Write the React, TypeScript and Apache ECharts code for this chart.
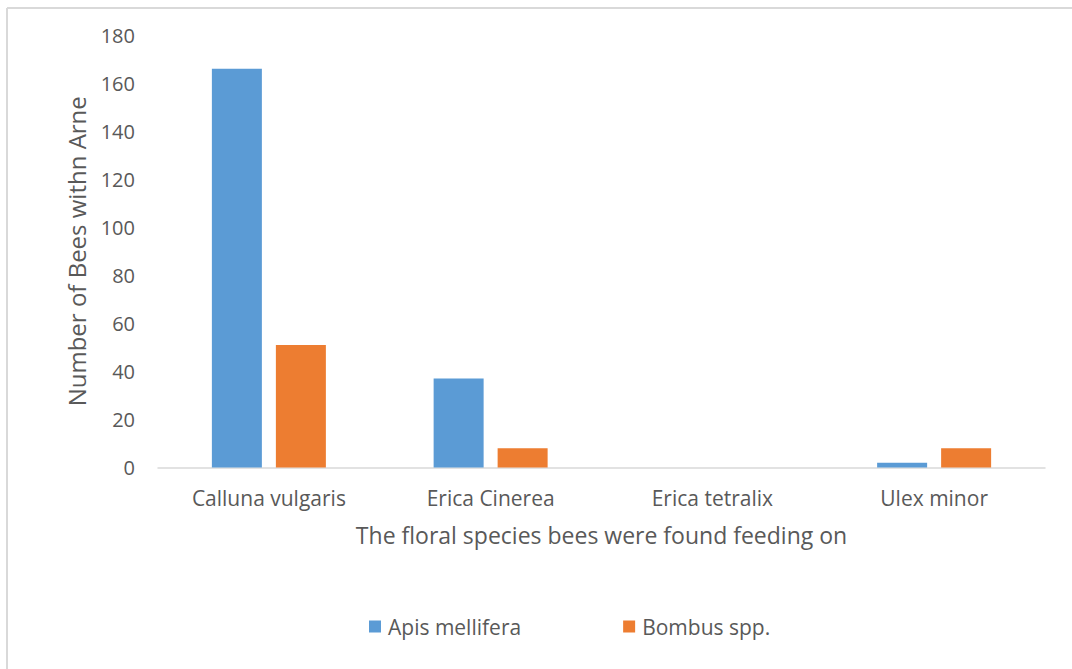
import React, { useEffect, useRef } from "react";
import * as echarts from "echarts";

const categories = ["Calluna vulgaris", "Erica Cinerea", "Erica tetralix", "Ulex minor"];
const apisValues = [166, 37, 0, 2];
const bombusValues = [51, 8, 0, 8];
const seriesNames = ["Apis mellifera", "Bombus spp."];
const yTicks = { min: 0, max: 180, interval: 20 };

const FONT = "'Open Sans', Lato, sans-serif";
const TEXT = "#595959";

export default function App() {
  const ref = useRef<HTMLDivElement>(null);
  useEffect(() => {
    if (!ref.current) return;
    const chart = echarts.init(ref.current, undefined, { renderer: "svg" });
    chart.setOption({
      animation: false,
      backgroundColor: "#ffffff",
      textStyle: { fontFamily: FONT, color: TEXT },
      graphic: [
        { type: "line", shape: { x1: 7, y1: 8, x2: 1072, y2: 8 }, style: { stroke: "#d9d9d9", lineWidth: 2 } },
        { type: "line", shape: { x1: 7, y1: 8, x2: 7, y2: 669 }, style: { stroke: "#d9d9d9", lineWidth: 2 } },
      ],
      grid: { left: 158, right: 27, top: 35, bottom: 201.5, containLabel: false },
      legend: {
        left: 364,
        top: 611,
        itemWidth: 12,
        itemHeight: 12,
        itemGap: 102,
        icon: "rect",
        data: seriesNames,
        textStyle: { fontFamily: FONT, color: TEXT, fontSize: 21, padding: [0, 0, 0, 2] },
      },
      xAxis: {
        type: "category",
        data: categories,
        axisLine: { show: true, lineStyle: { color: "#d9d9d9", width: 1.5 } },
        axisTick: { show: false },
        axisLabel: { color: TEXT, fontSize: 21, fontFamily: FONT, margin: 20 },
        name: "The floral species bees were found feeding on",
        nameLocation: "middle",
        nameGap: 56,
        nameTextStyle: { color: TEXT, fontSize: 23, fontFamily: FONT },
      },
      yAxis: {
        type: "value",
        min: yTicks.min,
        max: yTicks.max,
        interval: yTicks.interval,
        axisLine: { show: false },
        axisTick: { show: false },
        splitLine: { show: false },
        axisLabel: { color: TEXT, fontSize: 20, fontFamily: FONT, margin: 23 },
        name: "Number of Bees withn Arne",
        nameLocation: "middle",
        nameGap: 70,
        nameTextStyle: { color: TEXT, fontSize: 24, fontFamily: FONT },
      },
      series: [
        {
          name: seriesNames[0],
          type: "bar",
          data: apisValues,
          barWidth: 50,
          barGap: "28%",
          itemStyle: { color: "#5b9bd5" },
        },
        {
          name: seriesNames[1],
          type: "bar",
          data: bombusValues,
          barWidth: 50,
          barGap: "28%",
          itemStyle: { color: "#ed7d31" },
        },
      ],
    });
    return () => chart.dispose();
  }, []);
  return (
    <div
      ref={ref}
      style={{ position: "fixed", left: 0, top: 0, width: 1072, height: 669 }}
    />
  );
}
